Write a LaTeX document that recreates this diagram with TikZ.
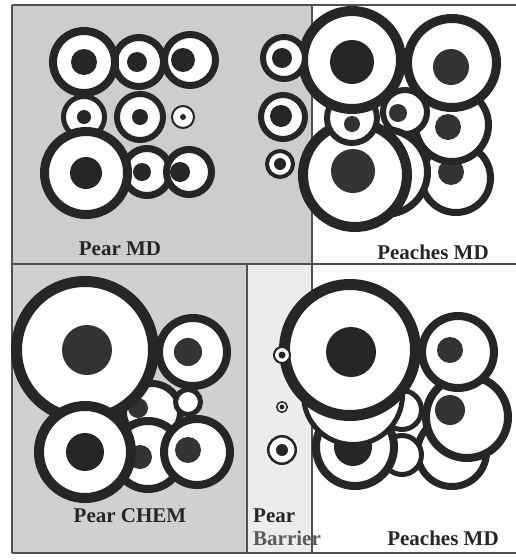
\documentclass[tikz,border=0pt]{standalone}
\usepackage{fontspec}
\setmainfont{Liberation Serif}
\usepackage{xcolor}
\usepackage{tikz}
\definecolor{ink}{HTML}{262626}
\definecolor{inksoft}{HTML}{333333}
\definecolor{panelgray}{HTML}{CDCDCD}
\definecolor{barriergray}{HTML}{ECECEC}
\definecolor{framegray}{HTML}{505050}
\definecolor{barrierink}{HTML}{5A5A5A}

\begin{document}
\begin{tikzpicture}[
    x=1pt, y=-1pt,
    ring/.style={draw=ink, fill=white, line width=#1},
    core/.style={fill=ink},
    softcore/.style={fill=inksoft},
    edge/.style={draw=framegray, line width=1.2pt},
    lbl/.style={font=\fontsize{21}{23}\selectfont\bfseries, text=ink, inner sep=0pt}
  ]
    \useasboundingbox (0,0) rectangle (516,560);
    \fill[white] (0,0) rectangle (516,560);
    \fill[panelgray] (12,5) rectangle (312,264);
    \fill[panelgray!95!white] (12,264) rectangle (247,553);
    \fill[barriergray] (247,264) rectangle (312,553);
    \draw[edge] (12,5) -- (516,5);
    \draw[edge] (12,264) -- (516,264);
    \draw[edge] (12,553) -- (516,553);
    \draw[edge] (12,5) -- (12,553);
    \draw[edge] (312,5) -- (312,553);
    \draw[edge] (247,264) -- (247,553);

    \draw[ring=7pt] (190,60) circle (25.5pt);
    \fill[core] (183,60) circle (12pt);
    \draw[ring=7pt] (139,62) circle (24.5pt);
    \fill[core] (137,62) circle (10pt);
    \draw[ring=8pt] (84,62) circle (31pt);
    \fill[core] (84,62) circle (13pt);
    \draw[ring=5pt] (84,117) circle (20.5pt);
    \fill[core] (84,117) circle (7pt);
    \draw[ring=6pt] (140,117) circle (23pt);
    \fill[core] (140,117) circle (8pt);
    \draw[ring=2pt] (183,117) circle (11pt);
    \fill[core] (183,117) circle (3pt);
    \draw[ring=7pt] (147,172) circle (23.5pt);
    \fill[core] (142,172) circle (9pt);
    \draw[ring=9pt] (86,173) circle (41.5pt);
    \fill[core] (86,173) circle (16pt);
    \draw[ring=7pt] (189,172) circle (22.5pt);
    \fill[core] (180,172) circle (10pt);

    \draw[ring=7pt] (456,178) circle (34.5pt);
    \fill[softcore] (451,172) circle (13pt);
    \draw[ring=7pt] (452,125) circle (36.5pt);
    \fill[softcore] (448,127) circle (13pt);
    \draw[ring=6pt] (405,112) circle (22pt);
    \fill[softcore] (398,113) circle (9pt);
    \draw[ring=9pt] (452,63) circle (44.5pt);
    \fill[softcore] (451,67) circle (18pt);
    \draw[ring=7pt] (385,172) circle (42.5pt);
    \draw[ring=10pt] (355,175) circle (52pt);
    \fill[softcore] (353,171) circle (22pt);
    \draw[ring=6pt] (352,118) circle (25pt);
    \fill[softcore] (352,124) circle (8pt);
    \draw[ring=10pt] (352,60) circle (49pt);
    \fill[core] (352,62) circle (22pt);
    \draw[ring=6pt] (284,58) circle (21pt);
    \fill[core] (282,58) circle (10pt);
    \draw[ring=6pt] (283,117) circle (22pt);
    \fill[core] (281,116) circle (11pt);
    \draw[ring=4pt] (280,164) circle (13pt);
    \fill[core] (280,164) circle (6pt);

    \draw[ring=7pt] (152,412) circle (28.5pt);
    \fill[softcore] (138,408) circle (10pt);
    \draw[ring=5pt] (188,402) circle (12.5pt);
    \draw[ring=8pt] (148,455) circle (34pt);
    \fill[softcore] (140,457) circle (12pt);
    \draw[ring=8pt] (197,452) circle (33pt);
    \fill[softcore] (188,450) circle (13pt);
    \draw[ring=8pt] (193,352) circle (34pt);
    \fill[softcore] (188,352) circle (14pt);
    \draw[ring=11pt] (85,350) circle (68.5pt);
    \fill[softcore] (87,350) circle (25pt);
    \draw[ring=10pt] (85,452) circle (46pt);
    \fill[core] (85,452) circle (19pt);

    \draw[ring=7pt] (452,452) circle (34.5pt);
    \draw[ring=8pt] (467,417) circle (41pt);
    \fill[softcore] (450,410) circle (15pt);
    \draw[ring=8pt] (458,352) circle (36pt);
    \fill[softcore] (450,350) circle (13pt);
    \draw[ring=5pt] (402,410) circle (19.5pt);
    \draw[ring=5pt] (402,455) circle (19.5pt);
    \draw[ring=8pt] (355,447) circle (39pt);
    \fill[core] (353,447) circle (19pt);
    \draw[ring=5pt] (353,395) circle (49.5pt);
    \draw[ring=11pt] (350,350) circle (65.5pt);
    \fill[core] (351,352) circle (25pt);
    \draw[ring=2pt] (282,355) circle (8pt);
    \fill[core] (282,355) circle (3.5pt);
    \draw[ring=1.5pt] (282,407) circle (5.25pt);
    \fill[core] (282,407) circle (2.5pt);
    \draw[ring=2.5pt] (282,450) circle (13.75pt);
    \fill[core] (282,450) circle (6pt);

    \node[lbl, anchor=base] (pearmd) at (120,255) {Pear MD};
    \node[lbl, anchor=base] (peachesupper) at (433,259) {Peaches MD};
    \node[lbl, anchor=base] (pearchem) at (130,522) {Pear CHEM};
    \node[lbl, anchor=base west] (pear) at (253,522) {Pear};
    \node[lbl, anchor=base west, text=barrierink] (barrier) at (253,545) {Barrier};
    \node[lbl, anchor=base] (peacheslower) at (443,545) {Peaches MD};
\end{tikzpicture}
\end{document}
